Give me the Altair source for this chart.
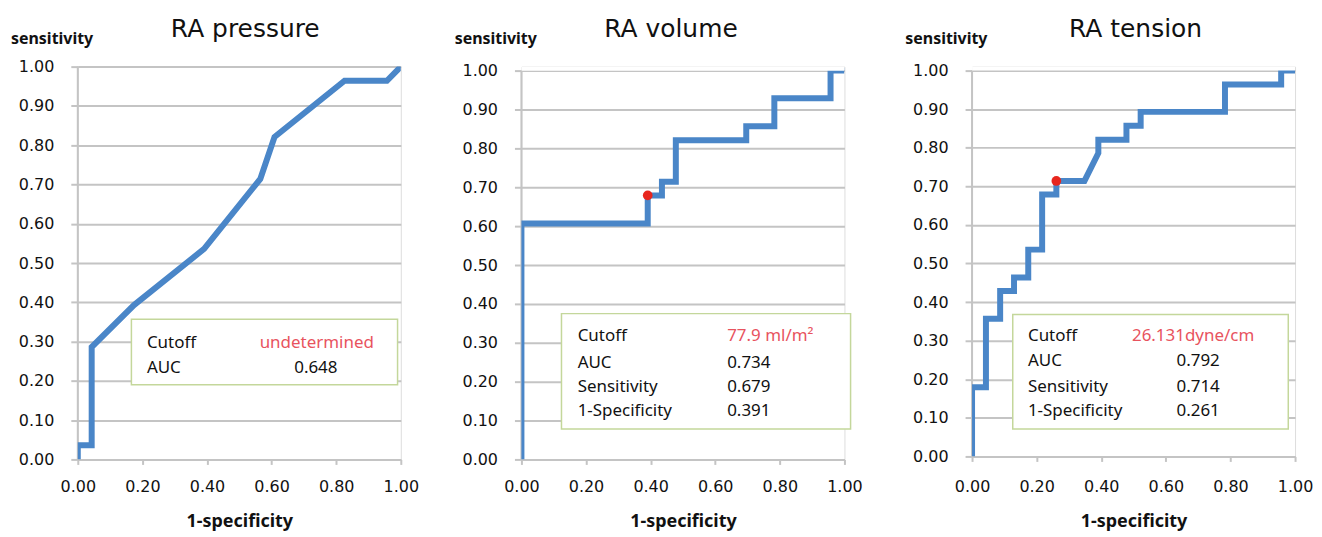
import altair as alt
import pandas as pd

# ---------------- data ----------------
titles = ["RA pressure", "RA volume", "RA tension"]

pressure_fpr = [0.0, 0.0, 0.043, 0.043, 0.174, 0.391, 0.565, 0.609, 0.826, 0.957, 1.0]
pressure_tpr = [0.0, 0.036, 0.036, 0.286, 0.393, 0.536, 0.714, 0.821, 0.964, 0.964, 1.0]

volume_fpr = [0.0, 0.0, 0.391, 0.391, 0.435, 0.435, 0.478, 0.478, 0.696, 0.696,
              0.783, 0.783, 0.957, 0.957, 1.0]
volume_tpr = [0.0, 0.607, 0.607, 0.679, 0.679, 0.714, 0.714, 0.821, 0.821, 0.857,
              0.857, 0.929, 0.929, 1.0, 1.0]

tension_fpr = [0.0, 0.0, 0.043, 0.043, 0.087, 0.087, 0.130, 0.130, 0.174, 0.174,
               0.217, 0.217, 0.261, 0.261, 0.348, 0.391, 0.391, 0.478, 0.478,
               0.522, 0.522, 0.783, 0.783, 0.957, 0.957, 1.0]
tension_tpr = [0.0, 0.179, 0.179, 0.357, 0.357, 0.429, 0.429, 0.464, 0.464, 0.536,
               0.536, 0.679, 0.679, 0.714, 0.714, 0.786, 0.821, 0.821, 0.857,
               0.857, 0.893, 0.893, 0.964, 0.964, 1.0, 1.0]

cutoff_points = [None, (0.391, 0.679), (0.261, 0.714)]

box_labels = [
    ["Cutoff", "AUC"],
    ["Cutoff", "AUC", "Sensitivity", "1-Specificity"],
    ["Cutoff", "AUC", "Sensitivity", "1-Specificity"],
]
box_values = [
    ["undetermined", "0.648"],
    ["77.9 ml/m²", "0.734", "0.679", "0.391"],
    ["26.131dyne/cm", "0.792", "0.714", "0.261"],
]

x_ticks = [0.0, 0.2, 0.4, 0.6, 0.8, 1.0]
y_ticks = [0.0, 0.1, 0.2, 0.3, 0.4, 0.5, 0.6, 0.7, 0.8, 0.9, 1.0]

fprs = [pressure_fpr, volume_fpr, tension_fpr]
tprs = [pressure_tpr, volume_tpr, tension_tpr]

# ---------------- layout / style ----------------
LINE = "#4A86C8"
GRID = "#C4C4C4"
RED_TXT = "#E8535E"
DOT = "#E8261E"
BOX = "#C4D79B"

layout = [
    dict(w=324, h=394, ytop=1.0, box=(0.166, 0.99, 0.19, 0.357), rows=[0.296, 0.233],
         lx=0.214, vx=[0.563, 0.67], tx=168, lp=14),
    dict(w=324, h=394, ytop=1.0103, box=(0.124, 1.019, 0.078, 0.375),
         rows=[0.317, 0.249, 0.187, 0.124],
         lx=0.174, vx=[0.637, 0.637, 0.637, 0.637], tx=150, lp=14),
    dict(w=324, h=391, ytop=1.0103, box=(0.126, 0.979, 0.071, 0.368),
         rows=[0.312, 0.246, 0.181, 0.118],
         lx=0.173, vx=[0.495, 0.633, 0.633, 0.633], tx=164, lp=17),
]
TITLE_Y = -38
SENS_X = -67
SENS_Y = -28


def panel(i):
    L = layout[i]
    xs = alt.X("fpr:Q", scale=alt.Scale(domain=[0, 1], nice=False, zero=False),
               axis=alt.Axis(values=x_ticks, format=".2f", title="1-specificity",
                             grid=False, labelFont="DejaVu Sans", labelFontSize=16,
                             labelColor="#111", labelPadding=L["lp"], tickSize=5,
                             tickColor=GRID, tickWidth=2, domainColor=GRID, domainWidth=2,
                             titleFont="Noto Sans", titleFontSize=18, titleFontWeight="bold",
                             titleColor="#111", titlePadding=18, labelFlush=False))
    ys = alt.Y("tpr:Q", scale=alt.Scale(domain=[0, L["ytop"]], nice=False, zero=False),
               axis=alt.Axis(values=y_ticks, format=".2f", title=None, grid=True,
                             gridColor=GRID, gridWidth=2, labelFont="DejaVu Sans",
                             labelFontSize=16, labelColor="#111", labelPadding=17,
                             tickSize=7, tickColor=GRID, tickWidth=2, domain=False,
                             labelFlush=False))

    df = pd.DataFrame({"fpr": fprs[i], "tpr": tprs[i], "idx": list(range(len(fprs[i])))})
    x1, x2, y1, y2 = L["box"]
    box_df = pd.DataFrame({"fpr": [x1], "fpr2": [x2], "tpr": [y1], "tpr2": [y2]})

    # vertical axis line from 0 to 1
    axis_df = pd.DataFrame({"fpr": [0.0], "tpr": [0.0], "tpr2": [1.0]})
    vaxis = alt.Chart(axis_df).mark_rule(color=GRID, strokeWidth=2).encode(
        x=xs, y=ys, y2="tpr2:Q")

    box = alt.Chart(box_df).mark_rect(fill="white", stroke=BOX, strokeWidth=1.5).encode(
        x=xs, x2="fpr2:Q", y=ys, y2="tpr2:Q")

    line = alt.Chart(df).mark_line(color=LINE, strokeWidth=6, clip=True,
                                   strokeJoin="miter", strokeCap="butt").encode(
        x=xs, y=ys, order="idx:Q")

    layers = [vaxis, box, line]

    if L["ytop"] > 1.0:
        mask_df = pd.DataFrame({"fpr": [0.0], "fpr2": [1.0], "tpr": [1.0], "tpr2": [L["ytop"]]})
        mask = alt.Chart(mask_df).mark_rect(fill="white", clip=True).encode(
            x=xs, x2="fpr2:Q", y=ys, y2="tpr2:Q")
        layers.append(mask)

    if cutoff_points[i] is not None:
        cx, cy = cutoff_points[i]
        dot = alt.Chart(pd.DataFrame({"fpr": [cx], "tpr": [cy]})).mark_circle(
            size=95, color=DOT, opacity=1).encode(x=xs, y=ys)
        layers.append(dot)

    lab_df = pd.DataFrame({"fpr": [L["lx"]] * len(box_labels[i]), "tpr": L["rows"],
                           "t": box_labels[i]})
    labs = alt.Chart(lab_df).mark_text(font="Noto Sans", fontSize=17, align="left",
                                       baseline="middle", color="#111").encode(
        x=xs, y=ys, text="t:N")
    layers.append(labs)

    val_df = pd.DataFrame({"fpr": L["vx"], "tpr": L["rows"], "t": box_values[i],
                           "c": ["red"] + ["black"] * (len(box_values[i]) - 1)})
    vals = alt.Chart(val_df).mark_text(font="Noto Sans", fontSize=17, align="left",
                                       baseline="middle").encode(
        x=xs, y=ys, text="t:N",
        color=alt.Color("c:N", scale=alt.Scale(domain=["red", "black"],
                                               range=[RED_TXT, "#111"]), legend=None))
    layers.append(vals)

    one = pd.DataFrame({"a": [0]})
    title = alt.Chart(one).mark_text(font="DejaVu Sans", fontSize=25, align="center",
                                     baseline="middle", color="#111").encode(
        x=alt.value(L["tx"]), y=alt.value(TITLE_Y), text=alt.value(titles[i]))
    sens = alt.Chart(one).mark_text(font="Noto Sans", fontSize=16, fontWeight="bold",
                                    align="left", baseline="middle", color="#111").encode(
        x=alt.value(SENS_X), y=alt.value(SENS_Y), text=alt.value("sensitivity"))
    layers += [title, sens]

    return alt.layer(*layers).properties(width=L["w"], height=L["h"])


p1, p2, p3 = panel(0), panel(1), panel(2)

chart = alt.hconcat(p1, alt.hconcat(p2, p3, spacing=41), spacing=34).properties(
    padding={"left": 2, "top": 7, "right": 0, "bottom": 0}
).configure_view(stroke=None).configure(background="white")

chart.save("out.html", embed_options={"renderer": "svg", "actions": False})
